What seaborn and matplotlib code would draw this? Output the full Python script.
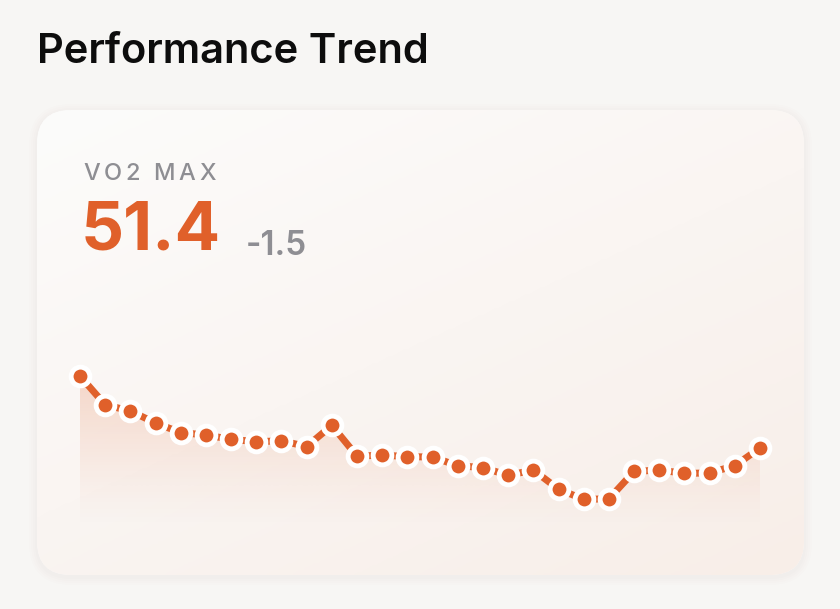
import numpy as np
import pandas as pd
import matplotlib
matplotlib.use("Agg")
import matplotlib.pyplot as plt
import seaborn as sns
from matplotlib.patches import FancyBboxPatch, Polygon
from matplotlib.colors import LinearSegmentedColormap

# VO2 max readings, oldest to newest
session = list(range(28))
vo2 = [52.90, 52.30, 52.17, 51.92, 51.72, 51.67, 51.58, 51.53, 51.55, 51.43,
       51.87, 51.23, 51.25, 51.22, 51.21, 51.03, 50.99, 50.83, 50.94, 50.54,
       50.33, 50.34, 50.91, 50.94, 50.87, 50.88, 51.03, 51.40]

title = "Performance Trend"
metric_name = "VO2 MAX"
current = "51.4"
change = "-1.5"

orange = "#e0602a"
grey = "#8e8e93"
bg = "#f7f6f4"

df = pd.DataFrame({"session": session, "vo2": vo2})

sns.set_theme(style="white")
plt.rcParams["font.family"] = ["Inter", "DejaVu Sans"]

W, H = 840, 609
fig = plt.figure(figsize=(W / 100, H / 100), dpi=100, facecolor=bg)

# background axes in pixel coords for the card
bgax = fig.add_axes([0, 0, 1, 1])
bgax.set_xlim(0, W)
bgax.set_ylim(H, 0)
bgax.axis("off")
bgax.set_facecolor(bg)

# very soft shadow
for i, a in enumerate([0.006, 0.008, 0.01, 0.012]):
    pad = 8 - i * 2
    sh = FancyBboxPatch((37 - pad, 110 - pad + 2), 767 + 2 * pad, 465 + 2 * pad,
                        boxstyle="round,pad=0,rounding_size=%d" % (34 + pad),
                        fc="#7a6a60", ec="none", alpha=a, zorder=0)
    bgax.add_patch(sh)

card = FancyBboxPatch((37, 110), 767, 465,
                      boxstyle="round,pad=0,rounding_size=34",
                      fc="#fbfaf9", ec="none", zorder=1)
bgax.add_patch(card)

# warm diagonal gradient on the card
gx, gy = np.meshgrid(np.linspace(0, 1, 200), np.linspace(0, 1, 200))
g = (gx * 0.6 + gy * 0.8) / 1.4
card_cmap = LinearSegmentedColormap.from_list("card", ["#fcfcfb", "#faf5f2", "#f8eee8"])
im = bgax.imshow(g, cmap=card_cmap, extent=(37, 804, 575, 110), zorder=2,
                 interpolation="bilinear", aspect="auto")
im.set_clip_path(card)

fig.text(37 / W, 1 - 63 / H, title, fontsize=30, fontweight="semibold",
         color="#0d0d0d", va="baseline")

renderer = fig.canvas.get_renderer()

# matplotlib has no letter-spacing, so place the label glyph by glyph
x = 83
for ch in metric_name:
    t = bgax.text(x, 180, ch, fontsize=17, fontweight="medium", color=grey,
                  va="baseline", ha="left", zorder=5)
    if ch == " ":
        x += 9
    else:
        x += t.get_window_extent(renderer).width + 4

fig.text(81 / W, 1 - 249 / H, current, fontsize=48.5, fontweight="bold",
         color=orange, va="baseline")
fig.text(246 / W, 1 - 255 / H, change, fontsize=24, fontweight="semibold",
         color=grey, va="baseline")

# chart axes: x 80..760 px, y 340..530 px
ax = fig.add_axes([80 / W, 1 - 530 / H, 680 / W, 190 / H])
ax.patch.set_alpha(0)

# gradient area under the line
fade = LinearSegmentedColormap.from_list(
    "fade", [(0.88, 0.38, 0.16, 0.0), (0.88, 0.38, 0.16, 0.22)])
yy = np.linspace(0, 1, 256).reshape(-1, 1) ** 1.3
area = ax.imshow(yy, cmap=fade, extent=(0, 27, 49.69, max(vo2)), origin="lower",
                 aspect="auto", zorder=1, interpolation="bilinear")
poly = Polygon(list(zip(session, vo2)) + [(27, 49.69), (0, 49.69)],
               closed=True, fc="none", ec="none", transform=ax.transData)
ax.add_patch(poly)
area.set_clip_path(poly)

sns.lineplot(data=df, x="session", y="vo2", ax=ax, color=orange, lw=5,
             marker="o", markersize=13.5, markerfacecolor=orange,
             markeredgecolor="white", markeredgewidth=3.5, zorder=3,
             clip_on=False)
ax.set_xlim(0, 27)
ax.set_ylim(49.69, 53.65)
ax.axis("off")

fig.savefig("out.png", dpi=100, facecolor=bg)
